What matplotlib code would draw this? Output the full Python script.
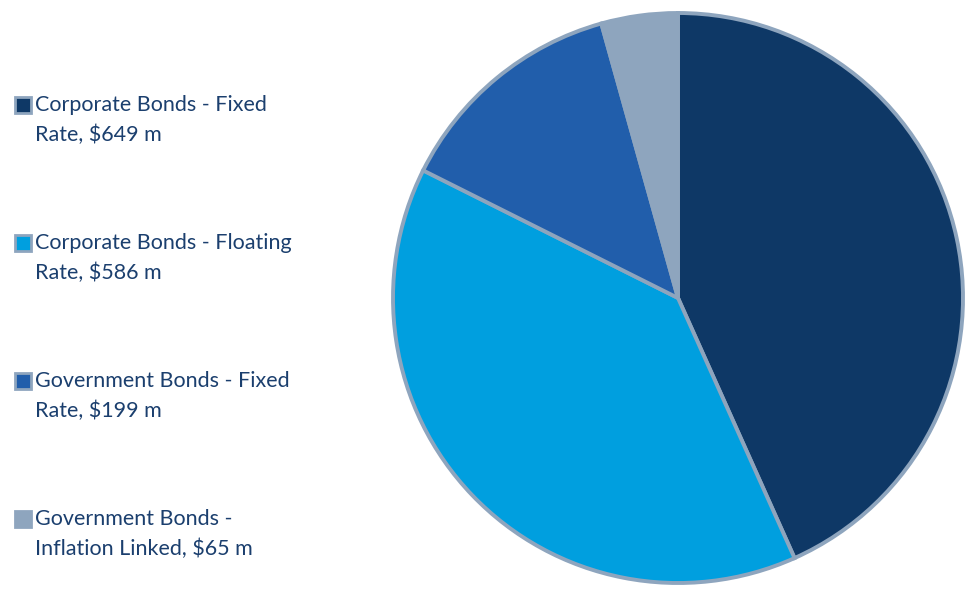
import matplotlib
matplotlib.use("Agg")
import matplotlib.pyplot as plt
from matplotlib.patches import Rectangle

labels = ["Corporate Bonds - Fixed\nRate, $649 m",
          "Corporate Bonds - Floating\nRate, $586 m",
          "Government Bonds - Fixed\nRate, $199 m",
          "Government Bonds -\nInflation Linked, $65 m"]
values = [649, 586, 199, 65]
colors = ["#0E3866", "#009FDF", "#215EAB", "#8EA5BE"]
EDGE = "#8EA5BE"
TEXT = "#1B3F6E"

W, H = 969, 594
fig = plt.figure(figsize=(W / 100, H / 100), dpi=100)

# pie: centre (678, 298) px, radius 285 px
cx, cy, r = 678, 298, 285
ax = fig.add_axes([(cx - r) / W, (H - cy - r) / H, 2 * r / W, 2 * r / H])
ax.pie(values, colors=colors, startangle=90, counterclock=False, radius=1.0,
       wedgeprops=dict(edgecolor=EDGE, linewidth=2.8))
ax.set_xlim(-1, 1)
ax.set_ylim(-1, 1)
ax.set_aspect("equal")
ax.axis("off")

# legend drawn by hand: marker sits on the first line of each label
y0, step, box = 105, 138, 16
for i, (lab, col) in enumerate(zip(labels, colors)):
    y = y0 + i * step
    fig.patches.append(Rectangle((14.5 / W, (H - y - box / 2) / H), box / W, box / H,
                                 transform=fig.transFigure, facecolor=col,
                                 edgecolor=EDGE, linewidth=2))
    fig.text(35 / W, (H - y + 10) / H, lab, fontsize=15.5, color=TEXT, family="Lato",
             va="top", ha="left", linespacing=1.62)

fig.savefig("out.png", dpi=100)
